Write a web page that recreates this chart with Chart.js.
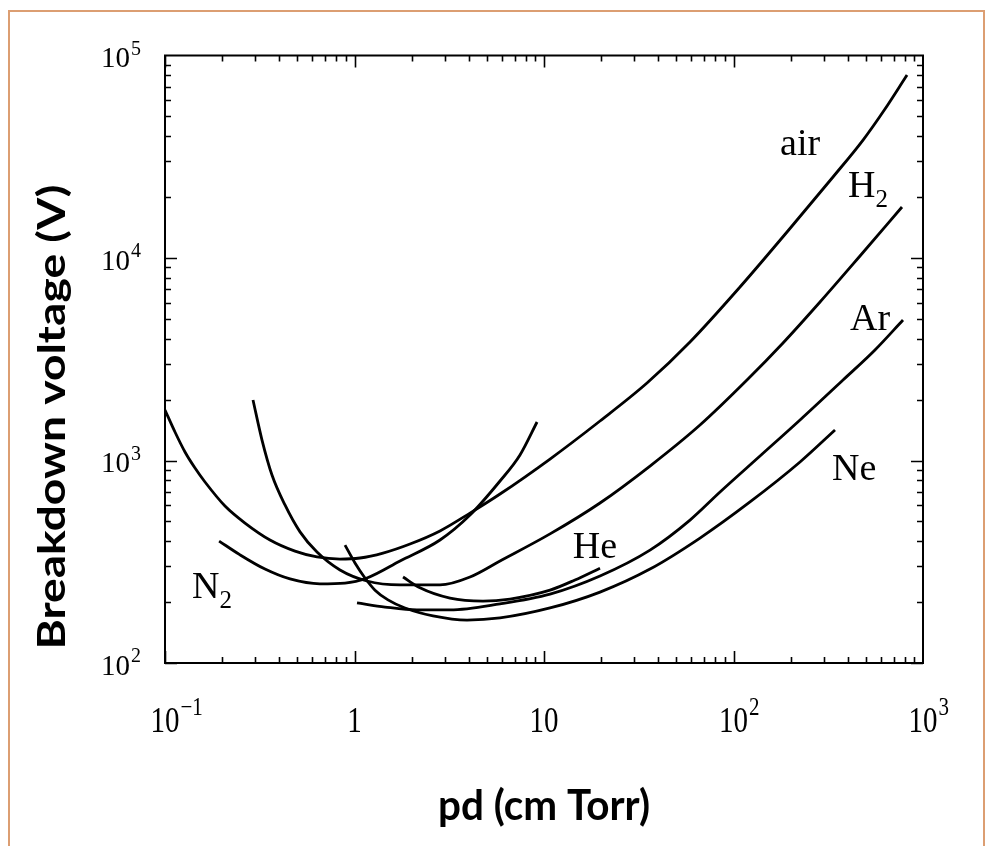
<!DOCTYPE html>
<html><head><meta charset="utf-8">
<script src="https://cdn.jsdelivr.net/npm/chart.js@4/dist/chart.umd.min.js"></script>
<style>html,body{margin:0;padding:0;background:#fff;overflow:hidden}canvas{display:block}</style>
</head><body>
<canvas id="c" width="987" height="846"></canvas>
<script>
// ---- data (pd in cm·Torr, breakdown voltage in V) ----
const airPd = [0.1, 0.1129, 0.1275, 0.144, 0.1626, 0.2073, 0.2643, 0.3581, 0.4853, 0.6339, 0.8385, 1.069, 1.414, 1.963, 2.826, 4.07, 5.86, 10.76, 19.75, 34.96, 58.95, 108.2, 191.6, 335, 482.5, 630.2, 823.5];
const airV  = [1776, 1383, 1102, 918, 783, 596, 491, 405, 357, 334, 326, 330, 349, 387, 449, 550, 683, 1017, 1567, 2413, 3848, 7190, 13440, 25120, 38240, 54440, 80130];

const n2Pd = [0.193, 0.249, 0.337, 0.457, 0.657, 0.891, 1.164, 1.739, 2.826, 4.07, 5.86, 7.47, 9.19];
const n2V  = [400, 342, 291, 260, 246, 248, 263, 319, 405, 538, 792, 1065, 1549];

const h2Pd = [0.2913, 0.325, 0.3669, 0.4297, 0.5158, 0.6339, 0.8385, 1.164, 1.739, 2.826, 4.07, 5.86, 10.76, 19.75, 36.26, 66.56, 117.8, 182.5, 286.1, 465, 774.7];
const h2V  = [1990, 1262, 848, 603, 444, 353, 288, 254, 243, 243, 266, 319, 434, 617, 939, 1497, 2497, 3804, 6062, 10230, 17860];

const nePd = [0.891, 1.006, 1.136, 1.283, 1.502, 1.847, 2.596, 3.925, 5.86, 10.76, 19.75, 36.26, 66.56, 122.2, 224.4, 343.3];
const neV  = [382, 312, 263, 229, 205, 187, 171, 163, 167, 187, 224, 291, 414, 624, 983, 1414];

const hePd = [1.803, 2.216, 3.192, 4.766, 6.617, 10.76, 14.57, 19.75];
const heV  = [266, 235, 209, 202, 207, 229, 257, 294];

const arPd = [1.031, 1.449, 2.137, 3.192, 5.86, 10.76, 19.75, 36.26, 58.95, 84.9, 138, 224.4, 378.3, 558, 784.3];
const arV  = [198, 189, 183, 183, 196, 219, 269, 361, 508, 699, 1052, 1585, 2497, 3513, 4940];

// ---- axis ticks ----
const xTickValues = [0.1, 1, 10, 100, 1000];
const xTickBase   = ["10", "1", "10", "10", "10"];
const xTickExp    = ["\u22121", "", "", "2", "3"];
const yTickValues = [100, 1000, 10000, 100000];
const yTickBase   = ["10", "10", "10", "10"];
const yTickExp    = ["2", "3", "4", "5"];

// ---- in-plot curve labels (left/baseline anchor, data units) ----
const labelText = ["air", "H", "Ar", "Ne", "He", "N"];
const labelSub  = ["", "2", "", "", "", "2"];
const labelPd   = [176, 402, 412, 331, 14.2, 0.1388];
const labelV    = [32250, 20010, 4410, 801, 330, 209];

const xTitle = "pd (cm Torr)";
const yTitle = "Breakdown voltage (V)";

function pts(xs, ys) { return xs.map((x, i) => ({ x: x, y: ys[i] })); }
function ds(label, xs, ys) {
  return { label: label, data: pts(xs, ys), showLine: true, borderColor: '#000', borderWidth: 2.8,
           pointRadius: 0, fill: false, cubicInterpolationMode: 'monotone', tension: 0.4 };
}

function stretchedText(ctx, text, x, y, font, sy, align) {
  ctx.save();
  ctx.font = font;
  ctx.textAlign = align || 'left';
  ctx.textBaseline = 'alphabetic';
  ctx.translate(x, y);
  ctx.scale(1, sy);
  ctx.fillText(text, 0, 0);
  ctx.restore();
}

const decor = {
  id: 'decor',
  beforeDraw(chart) {
    const ctx = chart.ctx;
    ctx.save();
    ctx.fillStyle = '#fff';
    ctx.fillRect(0, 0, chart.width, chart.height);
    ctx.strokeStyle = '#DC9E72';
    ctx.lineWidth = 2;
    ctx.beginPath();
    ctx.moveTo(9, 900); ctx.lineTo(9, 11); ctx.lineTo(984, 11); ctx.lineTo(984, 900);
    ctx.stroke();
    ctx.restore();
  },
  afterDraw(chart) {
    const ctx = chart.ctx;
    const a = chart.chartArea;
    const xs = chart.scales.x, ys = chart.scales.y;
    ctx.save();
    ctx.strokeStyle = '#000';
    ctx.fillStyle = '#000';
    // frame
    ctx.lineWidth = 2;
    ctx.strokeRect(a.left, a.top, a.right - a.left, a.bottom - a.top);
    // ticks
    ctx.lineWidth = 1.6;
    ctx.beginPath();
    for (let d = 0.1; d < 1000; d *= 10) {
      for (let m = 1; m < 10; m++) {
        const v = d * m;
        const p = Math.round(xs.getPixelForValue(v)) + 0.5;
        const len = m === 1 ? 12 : 6;
        ctx.moveTo(p, a.bottom); ctx.lineTo(p, a.bottom - len);
        ctx.moveTo(p, a.top); ctx.lineTo(p, a.top + len);
      }
    }
    for (let d = 100; d < 100000; d *= 10) {
      for (let m = 1; m < 10; m++) {
        const v = d * m;
        const p = Math.round(ys.getPixelForValue(v)) + 0.5;
        const len = m === 1 ? 12 : 6;
        ctx.moveTo(a.left, p); ctx.lineTo(a.left + len, p);
        ctx.moveTo(a.right, p); ctx.lineTo(a.right - len, p);
      }
    }
    ctx.stroke();

    const serif = '"Liberation Serif", "Times New Roman", serif';
    // x tick labels
    xTickValues.forEach((v, i) => {
      const p = xs.getPixelForValue(v);
      ctx.font = '29px ' + serif;
      const bw = ctx.measureText(xTickBase[i]).width;
      stretchedText(ctx, xTickBase[i], p - bw / 2, a.bottom + 69, '29px ' + serif, 1.2, 'left');
      if (xTickExp[i]) stretchedText(ctx, xTickExp[i], p + bw / 2 + 1, a.bottom + 52, '21px ' + serif, 1.2, 'left');
    });
    // y tick labels
    yTickValues.forEach((v, i) => {
      const p = ys.getPixelForValue(v);
      stretchedText(ctx, yTickBase[i], 130, p + 11.5, '29px ' + serif, 1.05, 'right');
      stretchedText(ctx, yTickExp[i], 131, p - 1, '20px ' + serif, 1.05, 'left');
    });
    // curve labels
    labelText.forEach((t, i) => {
      const px = xs.getPixelForValue(labelPd[i]);
      const py = ys.getPixelForValue(labelV[i]);
      ctx.font = '38px ' + serif;
      const w = ctx.measureText(t).width;
      stretchedText(ctx, t, px, py, '38px ' + serif, 1.0, 'left');
      if (labelSub[i]) stretchedText(ctx, labelSub[i], px + w, py + 10, '25px ' + serif, 1.0, 'left');
    });

    // axis titles
    const sans = 'bold 38px Lato, "Open Sans", sans-serif';
    ctx.font = sans;
    let w = ctx.measureText(xTitle).width;
    ctx.save();
    ctx.translate((a.left + a.right) / 2, 820);
    ctx.scale(212 / w, 1.1);
    ctx.textAlign = 'center';
    ctx.textBaseline = 'alphabetic';
    ctx.fillText(xTitle, 0, 0);
    ctx.restore();

    w = ctx.measureText(yTitle).width;
    ctx.save();
    ctx.translate(65, 417);
    ctx.rotate(-Math.PI / 2);
    ctx.scale(465 / w, 1);
    ctx.textAlign = 'center';
    ctx.textBaseline = 'alphabetic';
    ctx.fillText(yTitle, 0, 0);
    ctx.restore();

    ctx.restore();
  }
};

new Chart(document.getElementById('c'), {
  type: 'scatter',
  data: {
    datasets: [
      ds('air', airPd, airV),
      ds('N2', n2Pd, n2V),
      ds('H2', h2Pd, h2V),
      ds('Ne', nePd, neV),
      ds('He', hePd, heV),
      ds('Ar', arPd, arV)
    ]
  },
  options: {
    responsive: false,
    animation: false,
    events: [],
    layout: { padding: { left: 165, top: 55.5, right: 64, bottom: 183 } },
    plugins: { legend: { display: false }, tooltip: { enabled: false }, title: { display: false } },
    scales: {
      x: { type: 'logarithmic', min: 0.1, max: 1000, display: false },
      y: { type: 'logarithmic', min: 100, max: 100000, display: false }
    }
  },
  plugins: [decor]
});
</script>
</body></html>
